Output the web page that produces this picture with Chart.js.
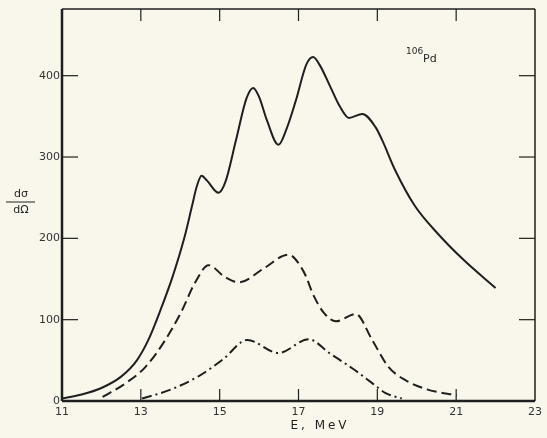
<!DOCTYPE html>
<html>
<head>
<meta charset="utf-8">
<script src="https://cdn.jsdelivr.net/npm/chart.js@4/dist/chart.umd.min.js"></script>
<style>
  html, body { margin: 0; padding: 0; background: #f9f7eb; }
  #wrap { width: 547px; height: 438px; position: relative; }
</style>
</head>
<body>
<div id="wrap"><canvas id="c"></canvas></div>
<script>
/* ======================================================
   Sección eficaz diferencial 106Pd vs energía
====================================================== */

const INK = '#1f1f1f';

// curva total (línea continua)
const totalE = [11.0, 11.5, 12.0, 12.5, 12.9, 13.2, 13.5, 13.8, 14.1, 14.3, 14.42, 14.54, 14.68, 14.97, 15.15, 15.41, 15.68, 15.85, 16.0, 16.2, 16.49, 16.7, 16.93, 17.2, 17.37, 17.54, 17.82, 18.05, 18.28, 18.62, 18.95, 19.12, 19.45, 19.95, 20.53, 21.2, 22.0];
const totalV = [3, 8, 16, 30, 50, 76, 112, 152, 200, 240, 264, 277, 271, 256, 270, 320, 372, 385, 374, 345, 315, 335, 369, 414, 423, 413, 385, 362, 348, 353, 337, 321, 284, 240, 206, 173, 139];

// curva a trazos
const dashE = [12.03, 12.62, 13.12, 13.62, 14.03, 14.37, 14.72, 15.12, 15.49, 16.12, 16.74, 17.12, 17.4, 17.65, 17.95, 18.45, 18.87, 19.28, 19.7, 20.28, 21.02];
const dashV = [5, 22, 42, 75, 110, 145, 167, 153, 146, 163, 180, 160, 128, 108, 98, 107, 75, 42, 26, 14, 7];

// curva punto-raya
const dotE = [13.03, 13.7, 14.45, 15.08, 15.7, 16.49, 17.26, 17.78, 18.37, 18.87, 19.2, 19.62];
const dotV = [3, 13, 30, 51, 75, 59, 76, 59, 40, 22, 10, 3];

const xTicks = [11, 13, 15, 17, 19, 21, 23];
const yTicks = [0, 100, 200, 300, 400];

const toPoints = (xs, ys) => xs.map((x, i) => ({ x, y: ys[i] }));

const serie = (xs, ys, dash) => ({
  data: toPoints(xs, ys),
  borderColor: INK,
  borderWidth: 2,
  borderDash: dash,
  pointRadius: 0,
  fill: false,
  cubicInterpolationMode: 'monotone'
});

// marco, marcas interiores y rótulos
const frame = {
  id: 'frame',
  afterDraw(chart) {
    const { ctx, chartArea: a, scales: { x, y } } = chart;
    const seg = (x1, y1, x2, y2) => {
      ctx.beginPath(); ctx.moveTo(x1, y1); ctx.lineTo(x2, y2); ctx.stroke();
    };
    ctx.save();
    ctx.strokeStyle = INK;

    ctx.lineWidth = 1.5;
    seg(a.left, a.top, a.right, a.top);
    seg(a.right, a.top, a.right, a.bottom);
    ctx.lineWidth = 2.5;
    seg(a.left, a.top, a.left, a.bottom);
    seg(a.left, a.bottom, a.right, a.bottom);

    ctx.lineWidth = 1.2;
    xTicks.slice(1, -1).forEach(e => {
      const px = x.getPixelForValue(e);
      seg(px, a.bottom, px, a.bottom - 12);
      seg(px, a.top, px, a.top + 12);
    });
    yTicks.slice(1).forEach(v => {
      const py = y.getPixelForValue(v);
      seg(a.left, py, a.left + 16, py);
      seg(a.right, py, a.right - 16, py);
    });

    ctx.fillStyle = INK;
    ctx.textBaseline = 'middle';
    ctx.textAlign = 'center';

    // título eje x
    ctx.font = '12px "DejaVu Sans"';
    ctx.letterSpacing = '3px';
    ctx.fillText('E, MeV', 320, 426);
    ctx.letterSpacing = '0px';

    // dσ/dΩ
    ctx.font = '11px "DejaVu Sans"';
    ctx.fillText('dσ', 21, 194);
    ctx.fillText('dΩ', 21, 210);
    ctx.lineWidth = 1;
    seg(6, 202, 35, 202);

    // núcleo
    ctx.textAlign = 'left';
    ctx.font = '9px "DejaVu Sans"';
    ctx.fillText('106', 406, 52);
    ctx.font = '11px "DejaVu Sans"';
    ctx.fillText('Pd', 423, 59);
    ctx.restore();
  }
};

new Chart(document.getElementById('c'), {
  type: 'line',
  data: {
    datasets: [
      serie(totalE, totalV, []),
      serie(dashE, dashV, [10, 5]),
      serie(dotE, dotV, [10, 4, 2, 4])
    ]
  },
  options: {
    responsive: true,
    maintainAspectRatio: false,
    animation: false,
    layout: { padding: { top: 9, right: 5, left: 0, bottom: 0 } },
    plugins: { legend: { display: false }, tooltip: { enabled: false } },
    scales: {
      x: {
        type: 'linear',
        min: 11,
        max: 23,
        afterFit: s => { s.height = 37; },
        afterBuildTicks: s => { s.ticks = xTicks.map(value => ({ value })); },
        grid: { display: false, drawTicks: false },
        border: { display: false },
        ticks: { padding: 5, color: '#333', font: { family: 'DejaVu Sans', size: 11 }, maxRotation: 0 }
      },
      y: {
        min: 0,
        max: 482,
        afterFit: s => { s.width = 62; },
        afterBuildTicks: s => { s.ticks = yTicks.map(value => ({ value })); },
        grid: { display: false, drawTicks: false },
        border: { display: false },
        ticks: { padding: 2, color: '#333', font: { family: 'DejaVu Sans', size: 11 } }
      }
    }
  },
  plugins: [frame]
});
</script>
</body>
</html>
